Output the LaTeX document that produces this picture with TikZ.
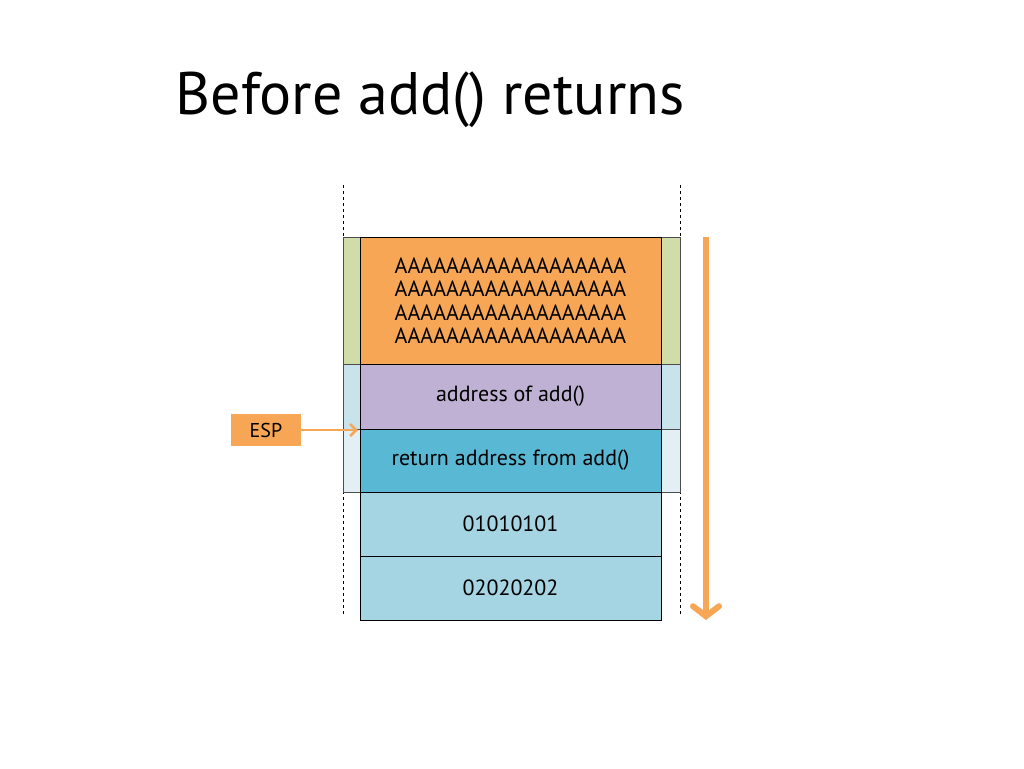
\documentclass[tikz,border=0pt]{standalone}
\usepackage{fontspec}
\setmainfont{PT Sans}
\usetikzlibrary{arrows.meta}
\definecolor{org}{HTML}{F7A656}
\definecolor{grn}{HTML}{D0DDA8}
\definecolor{lb1}{HTML}{C8E3EC}
\definecolor{lb2}{HTML}{E2F0F6}
\definecolor{pur}{HTML}{BFB1D4}
\definecolor{teal}{HTML}{59B9D4}
\definecolor{cell}{HTML}{A5D4E3}
\tikzset{cellbox/.style={draw=black,line width=0.8pt,minimum width=301pt,inner sep=0pt,font=\fontsize{22}{27}\selectfont,align=center},
 side/.style={draw=black!70,line width=0.6pt}}
\begin{document}
\begin{tikzpicture}[x=1pt,y=-1pt]
\useasboundingbox (0,0) rectangle (1024,768);
\node[anchor=west,font=\fontsize{60}{60}\selectfont] (title) at (172,100) {Before add() returns};
\draw[dashed,line width=0.8pt] (343,185) -- (343,615);
\draw[dashed,line width=0.8pt] (680,185) -- (680,615);
\filldraw[side,fill=grn] (343,237) rectangle (680,364);
\filldraw[side,fill=lb1] (343,364) rectangle (680,429);
\filldraw[side,fill=lb2] (343,429) rectangle (680,492);
\node[cellbox,fill=org,minimum height=127pt,font=\fontsize{22}{23.5}\selectfont] (a) at (510.5,300.5) {AAAAAAAAAAAAAAAAAA\\AAAAAAAAAAAAAAAAAA\\AAAAAAAAAAAAAAAAAA\\AAAAAAAAAAAAAAAAAA};
\node[cellbox,fill=pur,minimum height=65pt] (b) at (510.5,396.5) {address of add()};
\node[cellbox,fill=teal,minimum height=63pt] (c) at (510.5,460.5) {return address from add()};
\node[cellbox,fill=cell,minimum height=64pt] (d) at (510.5,524) {01010101};
\node[cellbox,fill=cell,minimum height=64pt] (e) at (510.5,588) {02020202};
\node[fill=org,minimum width=70pt,minimum height=32pt,inner sep=0pt,font=\fontsize{20}{24}\selectfont] (esp) at (266,430) {ESP};
\coordinate (espt) at (358,430);
\draw[org,line width=2.5pt,-{Straight Barb[length=6pt,width=12pt]}] (esp.east) -- (espt);
\coordinate (g1) at (706,237);
\coordinate (g2) at (706,620);
\draw[org,line width=6pt,-{Straight Barb[length=10pt,width=26pt,line cap=round]}] (g1) -- (g2);
\end{tikzpicture}
\end{document}
